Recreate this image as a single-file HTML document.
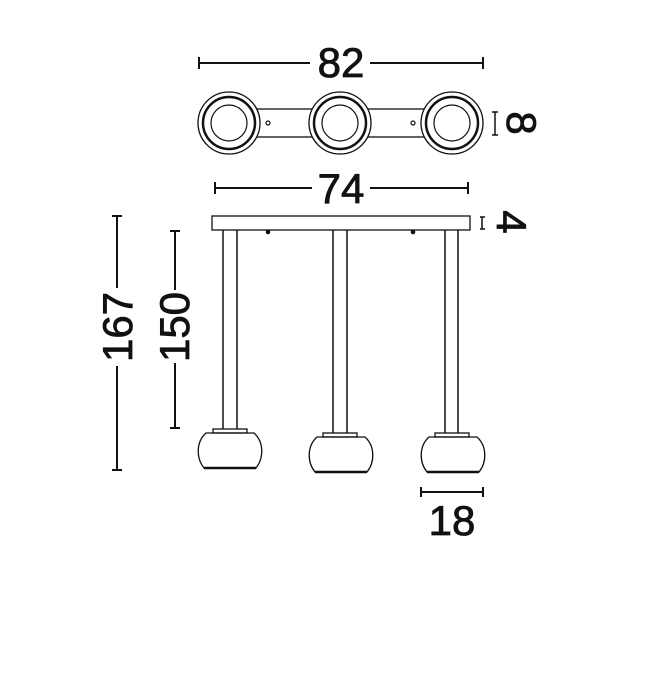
<!DOCTYPE html>
<html><head><meta charset="utf-8"><style>body{margin:0;background:#fff}svg{display:block}</style></head><body>
<svg width="650" height="677" viewBox="0 0 650 677" xmlns="http://www.w3.org/2000/svg" font-family="Liberation Sans, sans-serif" font-size="42" fill="none" stroke="#111">
<!-- 82 -->
<line x1="199" y1="63" x2="310" y2="63" stroke-width="2"/><line x1="370" y1="63" x2="483" y2="63" stroke-width="2"/>
<line x1="199" y1="57" x2="199" y2="69" stroke-width="2"/><line x1="483" y1="57" x2="483" y2="69" stroke-width="2"/>
<g fill="#111" stroke="#111" stroke-width="0.8">
<text x="341" y="77" text-anchor="middle">82</text>
<text transform="translate(507,123) rotate(90)" text-anchor="middle">8</text>
<text x="341" y="203" text-anchor="middle">74</text>
<text transform="translate(497,222) rotate(90)" text-anchor="middle">4</text>
<text transform="translate(132,327) rotate(-90)" text-anchor="middle">167</text>
<text transform="translate(189,327) rotate(-90)" text-anchor="middle">150</text>
<text x="452" y="535" text-anchor="middle">18</text>
</g>
<!-- top view -->
<rect x="255" y="109" width="170" height="28" stroke-width="1.3" fill="#fff"/>
<g stroke-width="1.3" fill="#fff">
<circle cx="229" cy="123" r="31"/><circle cx="340" cy="123" r="31"/><circle cx="452" cy="123" r="31"/></g>
<g stroke-width="2.5"><circle cx="229" cy="123" r="26"/><circle cx="340" cy="123" r="26"/><circle cx="452" cy="123" r="26"/></g>
<g stroke-width="1.2"><circle cx="229" cy="123" r="18"/><circle cx="340" cy="123" r="18"/><circle cx="452" cy="123" r="18"/>
<circle cx="268" cy="123" r="2"/><circle cx="413" cy="123" r="2"/></g>
<path d="M495 112V135M492 112H498M492 135H498" stroke-width="1.5"/>
<!-- 74 -->
<line x1="215" y1="188" x2="312" y2="188" stroke-width="2"/><line x1="370" y1="188" x2="468" y2="188" stroke-width="2"/>
<line x1="215" y1="182" x2="215" y2="194" stroke-width="2"/><line x1="468" y1="182" x2="468" y2="194" stroke-width="2"/>
<!-- bar -->
<rect x="212" y="216" width="258" height="14" stroke-width="1.3"/>
<path d="M482 217V229M480 217H485M480 229H485" stroke-width="1.5"/>
<circle cx="268" cy="232" r="1.8" fill="#111"/><circle cx="413" cy="232" r="1.8" fill="#111"/>
<!-- wires -->
<g stroke-width="1.5">
<path d="M223 230V429M237 230V429M333 230V433M347 230V433M445 230V433M458 230V433"/></g>
<!-- lamps -->
<g stroke-width="1.3">
<rect x="213" y="429" width="34" height="4"/>
<path d="M204 468C196 458 196 442 206 433H254C264 442 264 458 256 468Z"/>
<rect x="323" y="433" width="34" height="4"/>
<path d="M315 472C307 462 307 446 317 437H365C375 446 375 462 367 472Z"/>
<rect x="435" y="433" width="34" height="4"/>
<path d="M427 472C419 462 419 446 429 437H477C487 446 487 462 479 472Z"/></g>
<g stroke-width="2.5"><path d="M204 468H256M315 472H367M427 472H479"/></g>
<!-- 167 -->
<path d="M117 216V288M117 366V470M112 216H122M112 470H122" stroke-width="2"/>
<!-- 150 -->
<path d="M175 231V290M175 363V428M170 231H180M170 428H180" stroke-width="2"/>
<!-- 18 -->
<path d="M421 492H483M421 487V497M483 487V497" stroke-width="2"/>
</svg>
</body></html>
